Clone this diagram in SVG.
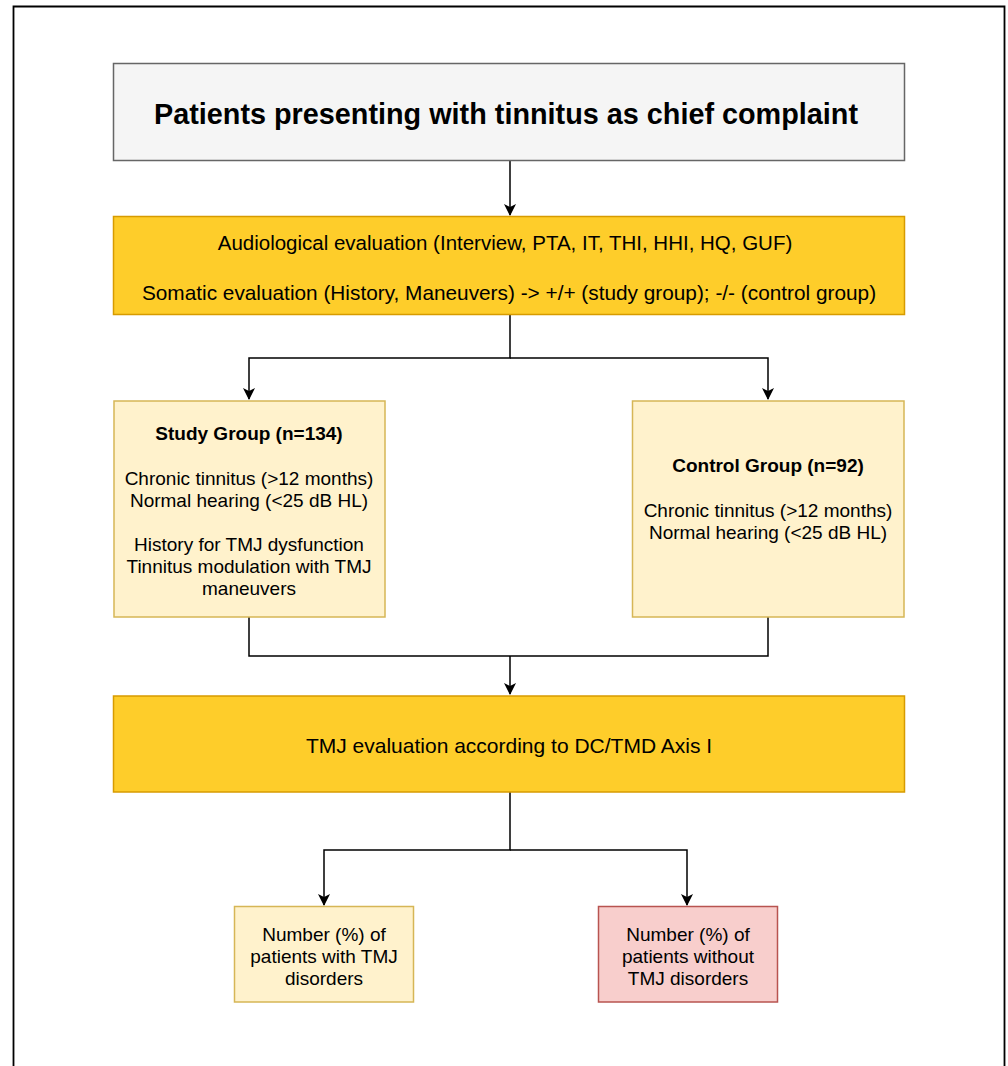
<svg xmlns="http://www.w3.org/2000/svg" width="1008" height="1066" viewBox="0 0 1008 1066">
<style>
text{font-family:"Liberation Sans",Arial,sans-serif;fill:#000;text-anchor:middle}
.g{font-size:19px}
.b{font-weight:bold}
.line{fill:none;stroke:#000;stroke-width:1.5}
.yel{fill:#fecd2a;stroke:#d79b00;stroke-width:1.5}
.pale{fill:#fff2cc;stroke:#d6b656;stroke-width:1.5}
.red{fill:#f8cecc;stroke:#b85450;stroke-width:1.5}
</style>
<defs>
<marker id="ah" viewBox="0 0 12 12" refX="11" refY="6" markerWidth="12" markerHeight="12" markerUnits="userSpaceOnUse" orient="auto">
<path d="M0,0 L12,6 L0,12 L3,6 Z" fill="#000"/>
</marker>
</defs>
<rect width="1008" height="1066" fill="#fff"/>
<path d="M13.5,1066 V6.5 H1004.5 V1066" fill="none" stroke="#000" stroke-width="1.8"/>
<g id="connectors">
<path class="line" d="M510,161 V215" marker-end="url(#ah)"/>
<path class="line" d="M510,315 V358 H249 V399" marker-end="url(#ah)"/>
<path class="line" d="M510,358 H768 V399" marker-end="url(#ah)"/>
<path class="line" d="M249,617 V656 H768 V617"/>
<path class="line" d="M510,656 V694" marker-end="url(#ah)"/>
<path class="line" d="M510,792 V850 H324 V905" marker-end="url(#ah)"/>
<path class="line" d="M510,850 H687 V905" marker-end="url(#ah)"/>
</g>
<g id="n1">
<rect x="113.5" y="63.5" width="791" height="97" fill="#f5f5f5" stroke="#666" stroke-width="1.5"/>
<text x="506" y="124" font-size="28.8" class="b">Patients presenting with tinnitus as chief complaint</text>
</g>
<g id="n2">
<rect class="yel" x="113.5" y="216.5" width="791" height="98"/>
<text x="505" y="250" font-size="20.5">Audiological evaluation (Interview, PTA, IT, THI, HHI, HQ, GUF)</text>
<text x="509" y="299.5" font-size="20.8">Somatic evaluation (History, Maneuvers) -&gt; +/+ (study group); -/- (control group)</text>
</g>
<g id="n3">
<rect class="pale" x="114" y="401" width="271" height="216"/>
<text class="g b" x="249" y="440">Study Group (n=134)</text>
<text class="g" x="249" y="485">Chronic tinnitus (&gt;12 months)</text>
<text class="g" x="249" y="507">Normal hearing (&lt;25 dB HL)</text>
<text class="g" x="249" y="551">History for TMJ dysfunction</text>
<text class="g" x="249" y="573">Tinnitus modulation with TMJ</text>
<text class="g" x="249" y="595">maneuvers</text>
</g>
<g id="n4">
<rect class="pale" x="632.5" y="401" width="271.5" height="216"/>
<text class="g b" x="768" y="472">Control Group (n=92)</text>
<text class="g" x="768" y="517">Chronic tinnitus (&gt;12 months)</text>
<text class="g" x="768" y="539">Normal hearing (&lt;25 dB HL)</text>
</g>
<g id="n5">
<rect class="yel" x="113.5" y="696" width="791" height="96"/>
<text x="509" y="753" font-size="21">TMJ evaluation according to DC/TMD Axis I</text>
</g>
<g id="n6">
<rect class="pale" x="234.5" y="906.5" width="179" height="95.5"/>
<text class="g" x="324" y="941">Number (%) of</text>
<text class="g" x="324" y="963">patients with TMJ</text>
<text class="g" x="324" y="985">disorders</text>
</g>
<g id="n7">
<rect class="red" x="598.5" y="906.5" width="179" height="95.5"/>
<text class="g" x="688" y="941">Number (%) of</text>
<text class="g" x="688" y="963">patients without</text>
<text class="g" x="688" y="985">TMJ disorders</text>
</g>
</svg>
